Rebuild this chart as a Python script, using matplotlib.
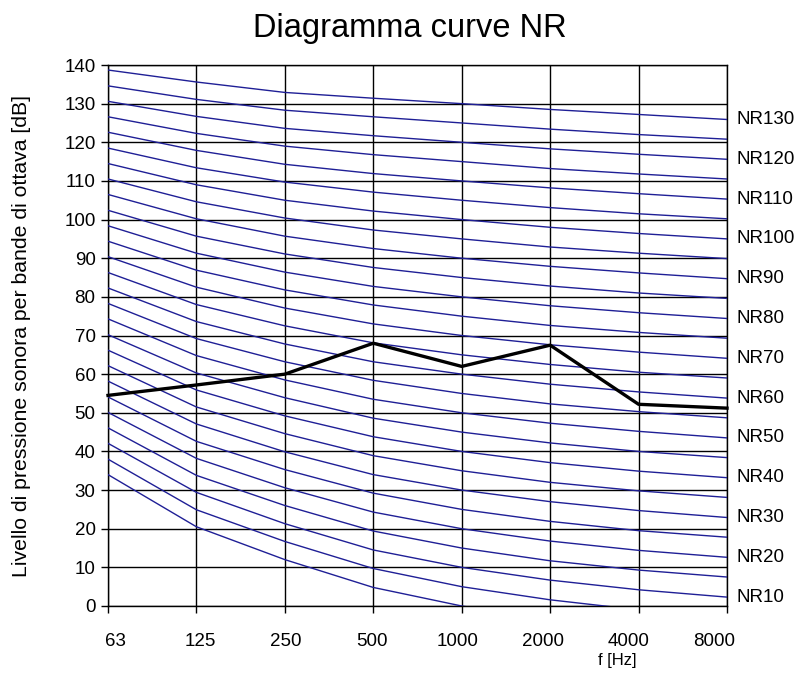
import numpy as np
import matplotlib
matplotlib.use("Agg")
import matplotlib.pyplot as plt

plt.rcParams["font.family"] = ["Liberation Sans", "DejaVu Sans"]

FREQ_LABELS = ["63", "125", "250", "500", "1000", "2000", "4000", "8000"]
NR_LEVELS = list(range(0, 135, 5))

# NR curve levels [dB] at each octave band, one list per band (NR0 ... NR130)
L_63 = [34.0, 38.0, 42.1, 46.1, 50.1, 54.1, 58.2, 62.2, 66.2, 70.2, 74.3, 78.3, 82.3, 86.3,
        90.4, 94.4, 98.4, 102.4, 106.5, 110.5, 114.5, 118.5, 122.6, 126.6, 130.6, 134.6, 138.7]
L_125 = [20.5, 24.9, 29.4, 33.8, 38.2, 42.6, 47.1, 51.5, 55.9, 60.3, 64.8, 69.2, 73.6, 78.0,
         82.5, 86.9, 91.3, 95.7, 100.2, 104.6, 109.0, 113.4, 117.9, 122.3, 126.7, 131.1, 135.6]
L_250 = [12.0, 16.7, 21.3, 26.0, 30.6, 35.3, 39.9, 44.6, 49.2, 53.9, 58.5, 63.2, 67.8, 72.5,
         77.1, 81.8, 86.4, 91.1, 95.7, 100.4, 105.0, 109.7, 114.3, 119.0, 123.6, 128.3, 132.9]
L_500 = [4.8, 9.7, 14.5, 19.4, 24.3, 29.2, 34.0, 38.9, 43.8, 48.6, 53.5, 58.4, 63.2, 68.1,
         73.0, 77.9, 82.7, 87.6, 92.5, 97.3, 102.2, 107.1, 111.9, 116.8, 121.7, 126.6, 131.4]
L_1000 = [0, 5, 10, 15, 20, 25, 30, 35, 40, 45, 50, 55, 60, 65,
          70, 75, 80, 85, 90, 95, 100, 105, 110, 115, 120, 125, 130]
L_2000 = [-3.5, 1.6, 6.7, 11.7, 16.8, 21.9, 27.0, 32.0, 37.1, 42.2, 47.3, 52.3, 57.4, 62.5,
          67.6, 72.6, 77.7, 82.8, 87.9, 92.9, 98.0, 103.1, 108.2, 113.2, 118.3, 123.4, 128.5]
L_4000 = [-6.1, -1.0, 4.2, 9.3, 14.4, 19.5, 24.7, 29.8, 34.9, 40.0, 45.2, 50.3, 55.4, 60.5,
          65.7, 70.8, 75.9, 81.0, 86.2, 91.3, 96.4, 101.5, 106.7, 111.8, 116.9, 122.0, 127.2]
L_8000 = [-8.0, -2.9, 2.3, 7.5, 12.6, 17.8, 22.9, 28.1, 33.2, 38.4, 43.5, 48.7, 53.8, 59.0,
          64.1, 69.3, 74.4, 79.6, 84.7, 89.9, 95.0, 100.2, 105.3, 110.5, 115.6, 120.8, 125.9]

# measured spectrum
MEASURED = [54.5, 57.2, 60.0, 68.0, 62.0, 67.5, 52.2, 51.2]


def main():
    table = np.column_stack([L_63, L_125, L_250, L_500, L_1000, L_2000, L_4000, L_8000])
    x = np.arange(len(FREQ_LABELS))

    fig = plt.figure(figsize=(8.03, 6.78), dpi=100)
    ax = fig.add_axes([108 / 803, 1 - 606 / 678, (727 - 108) / 803, (606 - 65) / 678])

    for nr, row in zip(NR_LEVELS, table):
        ax.plot(x, row, color="#1f1f96", linewidth=1.0, zorder=3)
        if nr % 10 == 0 and nr > 0:
            ax.text(x[-1] + 0.11, row[-1], f"NR{nr}", fontsize=13.5,
                    ha="left", va="center", clip_on=False)

    ax.plot(x, MEASURED, color="black", linewidth=2.4, zorder=5, clip_on=False)

    ax.set_xlim(x[0], x[-1])
    ax.set_ylim(0, 140)
    ax.set_yticks(np.arange(0, 141, 10))
    ax.set_xticks(x)
    ax.set_xticklabels([])
    ax.grid(True, color="black", linewidth=1.0, zorder=2)
    ax.set_axisbelow(True)
    for s in ax.spines.values():
        s.set_color("black")
        s.set_linewidth(1.0)
    ax.tick_params(axis="both", direction="out", length=5, width=1.0, labelsize=13.5, pad=4)

    # category labels, spread slightly inside the axis ends as in the source
    lab_pos = np.linspace(0.08, 6.85, len(FREQ_LABELS))
    for px, lab in zip(lab_pos, FREQ_LABELS):
        ax.text(px, -9.3, lab, fontsize=13.5, ha="center", va="center", clip_on=False)

    fig.text(617 / 803, 1 - 661 / 678, "f [Hz]", fontsize=12, ha="center", va="center")
    fig.text(22 / 803, 1 - 336 / 678, "Livello di pressione sonora per bande di ottava [dB]",
             fontsize=15.3, rotation=90, ha="center", va="center")
    fig.text(410 / 803, 1 - 28 / 678, "Diagramma curve NR", fontsize=23.5,
             ha="center", va="center")

    fig.savefig("out.png", dpi=100, facecolor="white")
    plt.close(fig)


if __name__ == "__main__":
    main()
